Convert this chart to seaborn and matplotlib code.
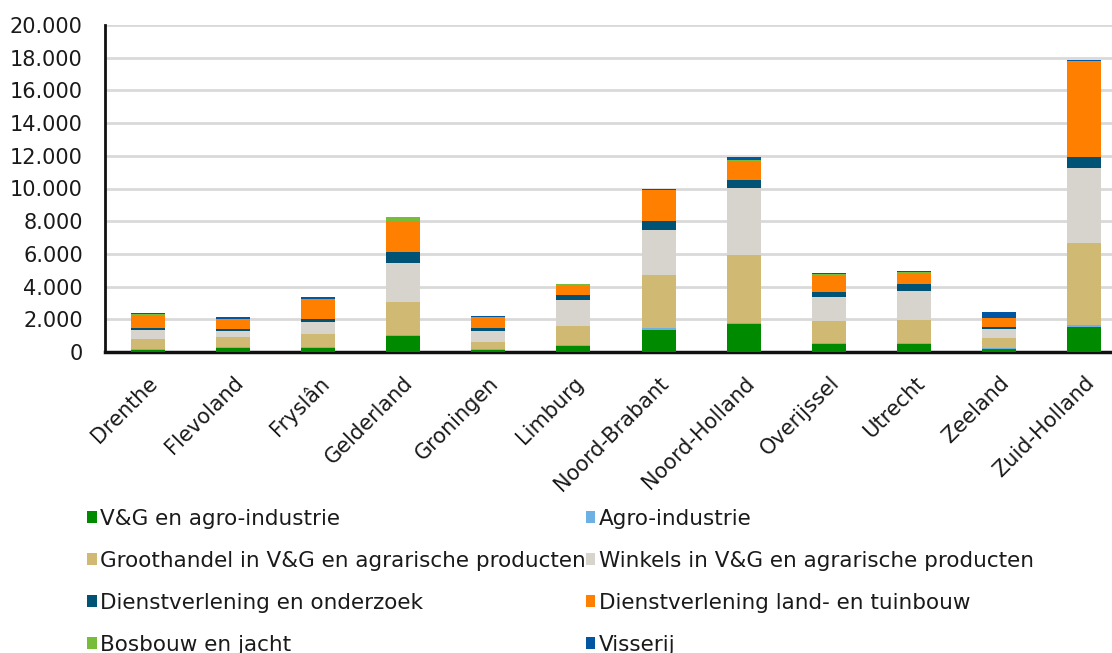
import matplotlib
matplotlib.use("Agg")
import matplotlib.pyplot as plt
from matplotlib.patches import Patch
from matplotlib.ticker import FuncFormatter
import numpy as np
import pandas as pd
import seaborn as sns

provinces = ["Drenthe", "Flevoland", "Fryslân", "Gelderland", "Groningen", "Limburg",
             "Noord-Brabant", "Noord-Holland", "Overijssel", "Utrecht", "Zeeland", "Zuid-Holland"]

# values per segment, bottom to top
vg_agro = [150, 265, 265, 980, 140, 345, 1325, 1690, 470, 490, 205, 1530]
agro_ind = [40, 30, 60, 80, 40, 100, 120, 80, 80, 60, 30, 100]
groothandel = [590, 630, 755, 2000, 450, 1160, 3260, 4180, 1365, 1385, 650, 5035]
winkels = [570, 350, 775, 2405, 650, 1590, 2750, 4055, 1450, 1815, 530, 4605]
dienst_onderzoek = [140, 120, 165, 650, 185, 265, 570, 510, 285, 390, 140, 630]
dienst_land = [775, 590, 1220, 1895, 630, 590, 1875, 1180, 1060, 690, 510, 5850]
bosbouw = [50, 10, 20, 245, 40, 100, 20, 30, 70, 40, 10, 30]
visserij = [40, 140, 100, 20, 60, 20, 60, 185, 30, 60, 365, 100]

labels = ["V&G en agro-industrie", "Agro-industrie",
          "Groothandel in V&G en agrarische producten", "Winkels in V&G en agrarische producten",
          "Dienstverlening en onderzoek", "Dienstverlening land- en tuinbouw",
          "Bosbouw en jacht", "Visserij"]
colors = ["#008a00", "#6cb0e4", "#d0b973", "#d6d4cc", "#005374", "#ff7f00", "#78bd3a", "#0056a3"]

series = [vg_agro, agro_ind, groothandel, winkels, dienst_onderzoek, dienst_land, bosbouw, visserij]
cum = np.cumsum(np.array(series), axis=0)

plt.rcParams["font.family"] = ["DejaVu Sans"]
plt.rcParams["text.color"] = "#1a1a1a"

fig = plt.figure(figsize=(11.12, 6.53), dpi=100)
ax = fig.add_axes([105 / 1112, 301 / 653, 1022 / 1112, 327 / 653])

# draw cumulative totals from the top down so lower layers overlay
for i in range(len(series) - 1, -1, -1):
    df = pd.DataFrame({"provincie": provinces, "waarde": cum[i]})
    sns.barplot(data=df, x="provincie", y="waarde", color=colors[i], width=0.4,
                saturation=1, linewidth=0, ax=ax, zorder=3)

ax.set_ylim(0, 20000)
ax.set_xlim(-0.5, len(provinces) - 0.5)
ax.set_yticks(np.arange(0, 20001, 2000))
ax.yaxis.set_major_formatter(FuncFormatter(lambda v, p: f"{int(v):,}".replace(",", ".")))
ax.grid(axis="y", color="#d9d9d9", linewidth=2, zorder=0)
ax.set_axisbelow(True)
ax.set_xlabel("")
ax.set_ylabel("")
for s in ["top", "right"]:
    ax.spines[s].set_visible(False)
ax.spines["left"].set_linewidth(2)
ax.spines["bottom"].set_linewidth(2.5)
ax.spines["left"].set_color("#111111")
ax.spines["bottom"].set_color("#111111")
ax.tick_params(axis="y", length=0, pad=16, labelsize=15, labelcolor="#1a1a1a")
ax.tick_params(axis="x", length=0, pad=15, labelsize=15, labelcolor="#1a1a1a")
plt.setp(ax.get_xticklabels(), rotation=45, ha="right", rotation_mode="anchor")

# legend filled row by row: reorder for matplotlib's column-wise fill
order = [0, 2, 4, 6, 1, 3, 5, 7]
handles = [Patch(facecolor=colors[k], edgecolor="none") for k in order]
fig.legend(handles, [labels[k] for k in order], ncol=2, loc="upper left",
           bbox_to_anchor=(87 / 1112, 1 - 509 / 653),
           frameon=False, fontsize=15.5, handlelength=0.45, handleheight=0.5, handletextpad=0.15,
           columnspacing=0.0, labelspacing=1.02, borderaxespad=0, borderpad=0)

fig.savefig("out.png", dpi=100)
